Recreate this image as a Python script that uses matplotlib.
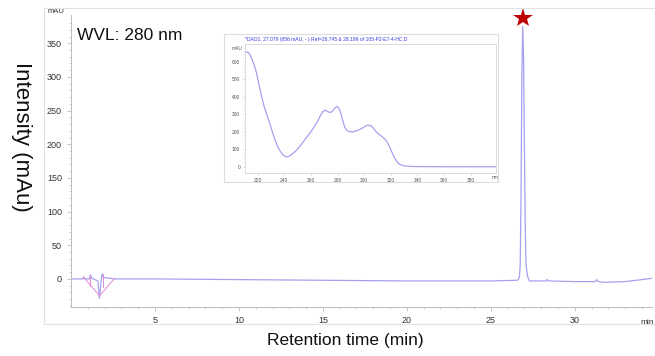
import matplotlib.pyplot as plt
from matplotlib.patches import Rectangle

plt.rcParams['font.family'] = ['Liberation Sans', 'DejaVu Sans']

# chromatogram trace (retention time in min, intensity in mAU)
rt = [0.0, 0.7, 0.75, 0.8, 1.1, 1.15, 1.25, 1.6, 1.7, 1.78, 1.85, 1.95, 2.3, 2.6,
      5.0, 10.0, 15.0, 20.0, 25.0, 26.6, 26.7, 26.75, 26.8, 26.85, 26.9, 26.95,
      27.0, 27.05, 27.1, 27.2, 27.3, 28.3, 28.35, 28.45, 30.0, 31.2, 31.3, 31.4,
      31.8, 33.0, 34.0, 34.6]
intensity = [0, 0, 3, 0, 0, 6, 1, -3, -29, -5, 7, 2, 1, 0,
             0, -1, -2, -3, -3, -2, 2, 20, 120, 300, 375, 330,
             200, 80, 20, 3, -3, -3, -1, -3, -4, -4, -1, -4,
             -5, -4, -1, 1]

# integration baseline marks near the solvent front
integ_x = [[0.73, 1.7], [1.7, 2.6], [1.13, 1.13], [1.9, 1.9]]
integ_y = [[3, -25], [-25, 1], [5, -10], [7, -12]]

peak_rt = 26.9
peak_star_y = 388

# UV spectrum of the starred peak
wavelength = [210.5, 212, 213.5, 215, 217, 219, 221, 223, 225, 227, 229, 231,
              233, 235, 237, 239, 241, 243, 245, 248, 251, 254, 257, 260, 263,
              265, 267, 269, 270.5, 272, 274, 276, 278, 279.5, 281, 282.5, 284,
              285.5, 287, 289, 292, 295, 298, 301, 303, 305, 307, 309, 311, 313,
              315, 317, 319, 321, 323, 325, 327, 330, 335, 340, 360, 399]
absorb = [652, 656, 650, 628, 590, 540, 470, 400, 340, 295, 250, 200,
          155, 115, 88, 68, 57, 58, 67, 85, 110, 140, 170, 200, 235,
          260, 290, 315, 323, 318, 310, 315, 335, 345, 335, 305, 260,
          225, 207, 200, 200, 207, 218, 232, 238, 234, 220, 200, 185, 175,
          162, 145, 115, 80, 48, 25, 12, 5, 2, 1, 0, 0]

y_ticks = [0, 50, 100, 150, 200, 250, 300, 350]
x_ticks = [5, 10, 15, 20, 25, 30]
inset_xticks = [220, 240, 260, 280, 300, 320, 340, 360, 380]
inset_yticks = [0, 100, 200, 300, 400, 500, 600]

trace_color = '#a4a2ee'
tick_color = '#333333'
spine_color = '#bbbbbb'

fig = plt.figure(figsize=(6.55, 3.56), dpi=100)

# light frame around the chromatogram
fig.patches.append(Rectangle((44 / 655, 1 - 324 / 356), 1, (324 - 8) / 356,
                             transform=fig.transFigure, fill=False,
                             edgecolor='#e2e2e2', lw=0.8))

ax = fig.add_axes([71 / 655, 1 - 307 / 356, (652 - 71) / 655, (307 - 15) / 356])
ax.plot(rt, intensity, color=trace_color, lw=0.9)
for xs, ys in zip(integ_x, integ_y):
    ax.plot(xs, ys, color='#e58ad6', lw=0.7)
ax.plot(peak_rt, peak_star_y, marker='*', color='#c00000', markersize=15,
        clip_on=False, markeredgewidth=0)

ax.set_xlim(0, 34.6)
ax.set_ylim(-41.7, 392)
ax.set_xticks(x_ticks)
ax.set_xticks(range(1, 35), minor=True)
ax.set_yticks(y_ticks)
ax.set_yticks(range(-40, 390, 10), minor=True)
ax.tick_params(axis='both', which='major', labelsize=6.5, colors=spine_color,
               labelcolor=tick_color, length=3, width=0.6)
ax.tick_params(axis='both', which='minor', colors=spine_color, length=1.5, width=0.5)
for side in ['top', 'right']:
    ax.spines[side].set_visible(False)
for side in ['left', 'bottom']:
    ax.spines[side].set_color(spine_color)
    ax.spines[side].set_linewidth(0.7)
ax.text(-0.012, 1.0, 'mAU', transform=ax.transAxes, fontsize=5.5,
        color=tick_color, ha='right', va='bottom')
ax.text(0.992, -0.04, 'min', transform=ax.transAxes, fontsize=6,
        color=tick_color, ha='center', va='top', clip_on=False)
ax.text(0.01, 0.93, 'WVL: 280 nm', transform=ax.transAxes, fontsize=12.5,
        color='#111111', va='center')

fig.text(21 / 655, 1 - 137 / 356, 'Intensity (mAu)', rotation=270,
         fontsize=16, ha='center', va='center', color='#111111')
fig.text(345 / 655, 1 - 340 / 356, 'Retention time (min)', fontsize=12.5,
         ha='center', va='center', color='#111111')

# inset box with the spectrum
inset_box = Rectangle((224 / 655, 1 - 182 / 356), (498 - 224) / 655,
                      (182 - 34) / 356, transform=fig.transFigure,
                      facecolor='white', edgecolor='#dddddd', lw=0.8, zorder=2)
fig.patches.append(inset_box)
ins = fig.add_axes([245 / 655, 1 - 172.7 / 356, (496 - 245) / 655, (172.7 - 44) / 356])
ins.set_zorder(3)
ins.plot(wavelength, absorb, color=trace_color, lw=0.9)
ins.set_xlim(210.5, 399)
ins.set_ylim(-34, 701)
ins.set_xticks(inset_xticks)
ins.set_xticks(range(212, 399, 4), minor=True)
ins.set_yticks(inset_yticks)
ins.set_yticks(range(0, 700, 20), minor=True)
ins.tick_params(axis='both', which='major', labelsize=3.5, colors=spine_color,
                labelcolor='#555555', length=1.5, width=0.4, pad=2)
ins.tick_params(axis='both', which='minor', colors=spine_color, length=0.8, width=0.3)
for side in ins.spines:
    ins.spines[side].set_color('#d6d6d6')
    ins.spines[side].set_linewidth(0.6)
ins.text(-0.01, 0.985, 'mAU', transform=ins.transAxes, fontsize=3.5,
         color='#555555', ha='right', va='top')
ins.text(0.995, -0.02, 'nm', transform=ins.transAxes, fontsize=3.5,
         color='#555555', ha='center', va='top')
ins.text(0.0, 1.015, '*DAD1, 27.079 (656 mAU, - ) Ref=26.745 & 28.199 of 105-P2-E7-4-HC.D',
         transform=ins.transAxes, fontsize=3.6, color='#3b3bdd', va='bottom')

plt.savefig('out.png', dpi=100)
